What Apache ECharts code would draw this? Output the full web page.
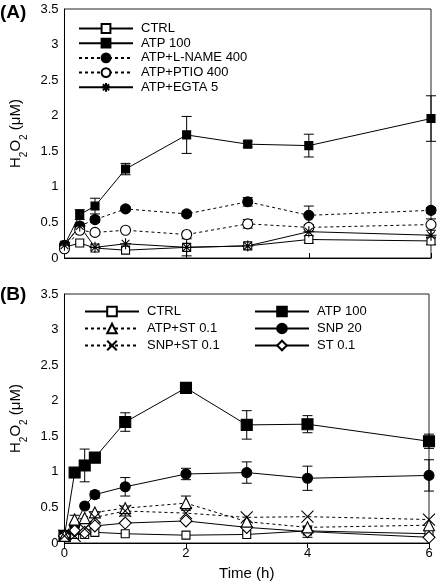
<!DOCTYPE html>
<html>
<head>
<meta charset="utf-8">
<script src="https://cdn.jsdelivr.net/npm/echarts@6/dist/echarts.min.js"></script>
<style>
html,body{margin:0;padding:0;background:#fff;}
#c{width:438px;height:584px;}
</style>
</head>
<body>
<div id="c"></div>
<script>
// ---------- Panel A data ----------
var timeA = [0, 0.25, 0.5, 1, 2, 3, 4, 6];
var A_ctrl   = [0.15, 0.21, 0.14, 0.11, 0.15, 0.17, 0.26, 0.24];
var A_atp    = [0.18, 0.61, 0.73, 1.25, 1.73, 1.60, 1.58, 1.96];
var A_lname  = [0.18, 0.45, 0.54, 0.69, 0.62, 0.79, 0.60, 0.67];
var A_ptio   = [0.13, 0.39, 0.36, 0.39, 0.33, 0.48, 0.43, 0.47];
var A_egta   = [0.18, 0.45, 0.15, 0.20, 0.15, 0.17, 0.37, 0.32];
var A_ctrlErr  = [null, null, null, null, null, null, 0.05, 0.05];
var A_atpErr   = [null, 0.07, 0.11, 0.08, 0.26, 0.04, 0.16, 0.32];
var A_lnameErr = [null, null, 0.04, 0.03, 0.03, 0.06, 0.13, 0.04];
var A_ptioErr  = [null, null, null, null, null, 0.06, null, 0.08];
var A_egtaErr  = [null, null, null, null, 0.12, null, null, null];

// ---------- Panel B data ----------
var timeB = [0, 0.167, 0.333, 0.5, 1, 2, 3, 4, 6];
var B_ctrl   = [0.10, 0.12, 0.12, 0.15, 0.13, 0.11, 0.12, 0.17, 0.13];
var B_atp    = [0.10, 0.99, 1.09, 1.20, 1.70, 2.18, 1.66, 1.67, 1.43];
var B_snp    = [0.10, 0.24, 0.52, 0.68, 0.79, 0.97, 0.99, 0.91, 0.95];
var B_st     = [0.10, 0.17, 0.15, 0.24, 0.28, 0.31, 0.22, 0.16, 0.08];
var B_atpst  = [0.10, 0.33, 0.35, 0.43, 0.49, 0.56, 0.30, 0.22, 0.25];
var B_snpst  = [0.10, 0.10, 0.20, 0.36, 0.45, 0.42, 0.36, 0.37, 0.33];
var B_ctrlErr  = [null, null, null, null, null, null, null, null, null];
var B_atpErr   = [null, null, 0.23, 0.03, 0.13, 0.03, 0.20, 0.12, 0.10];
var B_snpErr   = [null, null, null, 0.05, 0.13, 0.08, 0.15, 0.17, 0.22];
var B_stErr    = [null, null, null, null, null, null, null, 0.08, null];
var B_atpstErr = [null, 0.06, null, null, null, 0.10, null, null, null];
var B_snpstErr = [null, null, null, 0.08, 0.07, null, null, null, null];

// ---------- Axis ticks ----------
var yMin = 0, yMax = 3.5, yStep = 0.5;
var xMin = 0, xMax = 6, xStep = 2;

var legendA = ['CTRL', 'ATP 100', 'ATP+L-NAME 400', 'ATP+PTIO 400', 'ATP+EGTA 5'];
var legendB1 = ['CTRL', 'ATP+ST 0.1', 'SNP+ST 0.1'];
var legendB2 = ['ATP 100', 'SNP 20', 'ST 0.1'];

var asteriskPath = 'path://M5,0L5,10M0,5L10,5M1.5,1.5L8.5,8.5M8.5,1.5L1.5,8.5';
var crossPath = 'path://M0,0L10,10M10,0L0,10';

function pairs(xs, ys) { return xs.map(function (x, i) { return [x, ys[i]]; }); }
function errData(xs, ys, es) {
  var out = [];
  xs.forEach(function (x, i) { if (es[i] != null) out.push([x, ys[i], es[i]]); });
  return out;
}

function lineSeries(name, idx, xs, ys, sym, size, open, dotted) {
  return {
    name: name, type: 'line', xAxisIndex: idx, yAxisIndex: idx,
    data: pairs(xs, ys), symbol: sym, symbolSize: size, showSymbol: true,
    z: 3, animation: false,
    lineStyle: { color: '#000', width: 1, type: dotted ? [3, 3] : 'solid' },
    itemStyle: { color: open ? '#fff' : '#000', borderColor: '#000', borderWidth: 1.1, opacity: 1 },
    emphasis: { disabled: true }
  };
}

function errSeries(idx, xs, ys, es) {
  return {
    type: 'custom', xAxisIndex: idx, yAxisIndex: idx, z: 2, animation: false,
    data: errData(xs, ys, es), silent: true,
    renderItem: function (params, api) {
      var x = api.value(0), y = api.value(1), e = api.value(2);
      var lo = Math.max(0, y - e);
      var t = api.coord([x, y + e]), b = api.coord([x, lo]);
      var w = 5;
      var st = { stroke: '#000', lineWidth: 1, fill: null };
      var ch = [
        { type: 'line', shape: { x1: t[0], y1: t[1], x2: b[0], y2: b[1] }, style: st },
        { type: 'line', shape: { x1: t[0] - w, y1: t[1], x2: t[0] + w, y2: t[1] }, style: st }
      ];
      if (y - e > 0) ch.push({ type: 'line', shape: { x1: b[0] - w, y1: b[1], x2: b[0] + w, y2: b[1] }, style: st });
      return { type: 'group', children: ch };
    }
  };
}

var fontFam = '"Liberation Sans", Arial, sans-serif';

function yAxisCfg(idx) {
  return {
    gridIndex: idx, type: 'value', min: yMin, max: yMax, interval: yStep,
    axisLine: { show: true, lineStyle: { color: '#000', width: 1 } },
    axisTick: { show: false }, splitLine: { show: false },
    axisLabel: { color: '#000', fontSize: 13, fontFamily: fontFam, margin: 6 },
    name: '{n|H}{s|2}{n|O}{s|2}{n| (μM)}', nameLocation: 'middle', nameGap: 27, nameRotate: 90,
    nameTextStyle: {
      rich: {
        n: { fontSize: 15, fontFamily: fontFam, color: '#000', lineHeight: 18 },
        s: { fontSize: 10, fontFamily: fontFam, color: '#000', lineHeight: 18, verticalAlign: 'bottom', padding: [0, 0, -5, 0] }
      }
    }
  };
}

var legendText = { fontSize: 13, fontFamily: fontFam, color: '#000', padding: [0, 0, 0, 3] };

var option = {
  backgroundColor: '#fff',
  animation: false,
  grid: [
    { left: 59, right: 7, top: 9, height: 249, show: true, borderColor: '#222', borderWidth: 1, backgroundColor: 'transparent' },
    { left: 60, right: 9, top: 294, height: 249, show: true, borderColor: '#222', borderWidth: 1, backgroundColor: 'transparent' }
  ],
  xAxis: [
    { gridIndex: 0, type: 'value', min: xMin, max: xMax, interval: xStep,
      axisLine: { show: true, lineStyle: { color: '#000' } },
      axisTick: { show: true, inside: true, length: 5, lineStyle: { color: '#000' } },
      axisLabel: { show: false }, splitLine: { show: false } },
    { gridIndex: 1, type: 'value', min: xMin, max: xMax, interval: xStep,
      axisLine: { show: true, lineStyle: { color: '#000' } },
      axisTick: { show: true, inside: false, length: 5, lineStyle: { color: '#000' } },
      axisLabel: { color: '#000', fontSize: 13, fontFamily: fontFam, margin: 4 },
      splitLine: { show: false },
      name: 'Time (h)', nameLocation: 'middle', nameGap: 23,
      nameTextStyle: { color: '#000', fontSize: 15, fontFamily: fontFam } }
  ],
  yAxis: [yAxisCfg(0), yAxisCfg(1)],
  legend: [
    { data: legendA, orient: 'vertical', left: 78, top: 22, padding: 0, itemWidth: 54, itemHeight: 11, itemGap: 1.7,
      selectedMode: false, textStyle: legendText },
    { data: legendB1, orient: 'vertical', left: 84, top: 305, padding: 0, itemWidth: 54, itemHeight: 12, itemGap: 4,
      selectedMode: false, textStyle: legendText },
    { data: legendB2, orient: 'vertical', left: 254, top: 305, padding: 0, itemWidth: 54, itemHeight: 12, itemGap: 4,
      selectedMode: false, textStyle: legendText }
  ],
  graphic: [
    { type: 'text', left: 0, top: 3, style: { text: '(A)', fontSize: 19, fontWeight: 'bold', fontFamily: fontFam, fill: '#000' } },
    { type: 'text', left: 0, top: 285, style: { text: '(B)', fontSize: 19, fontWeight: 'bold', fontFamily: fontFam, fill: '#000' } }
  ],
  series: [
    errSeries(0, timeA, A_ctrl, A_ctrlErr),
    errSeries(0, timeA, A_atp, A_atpErr),
    errSeries(0, timeA, A_lname, A_lnameErr),
    errSeries(0, timeA, A_ptio, A_ptioErr),
    errSeries(0, timeA, A_egta, A_egtaErr),
    lineSeries('CTRL', 0, timeA, A_ctrl, 'rect', 8, true, false),
    lineSeries('ATP 100', 0, timeA, A_atp, 'rect', 8, false, false),
    lineSeries('ATP+L-NAME 400', 0, timeA, A_lname, 'circle', 10, false, true),
    lineSeries('ATP+PTIO 400', 0, timeA, A_ptio, 'circle', 10, true, true),
    lineSeries('ATP+EGTA 5', 0, timeA, A_egta, asteriskPath, 11, false, false),

    errSeries(1, timeB, B_ctrl, B_ctrlErr),
    errSeries(1, timeB, B_atp, B_atpErr),
    errSeries(1, timeB, B_snp, B_snpErr),
    errSeries(1, timeB, B_st, B_stErr),
    errSeries(1, timeB, B_atpst, B_atpstErr),
    errSeries(1, timeB, B_snpst, B_snpstErr),
    lineSeries('CTRL', 1, timeB, B_ctrl, 'rect', 8, true, false),
    lineSeries('ATP 100', 1, timeB, B_atp, 'rect', 11, false, false),
    lineSeries('SNP 20', 1, timeB, B_snp, 'circle', 10, false, false),
    lineSeries('ST 0.1', 1, timeB, B_st, 'diamond', 12, true, false),
    lineSeries('ATP+ST 0.1', 1, timeB, B_atpst, 'triangle', 11, true, true),
    lineSeries('SNP+ST 0.1', 1, timeB, B_snpst, crossPath, 12, false, true)
  ]
};

var chart = echarts.init(document.getElementById('c'), null, { renderer: 'canvas' });
chart.setOption(option);
</script>
</body>
</html>
